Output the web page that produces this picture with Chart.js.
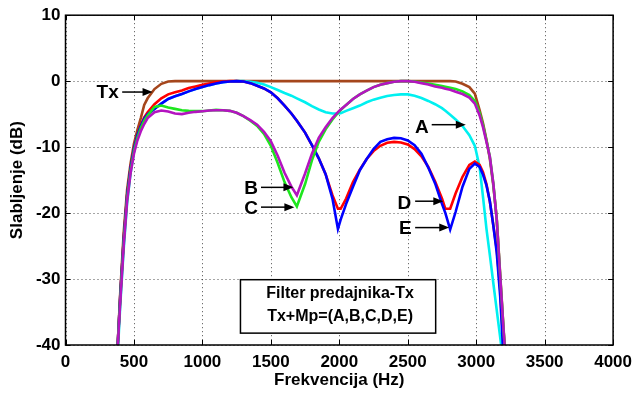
<!DOCTYPE html>
<html>
<head>
<meta charset="utf-8">
<script src="https://cdn.jsdelivr.net/npm/chart.js@4.4.1/dist/chart.umd.min.js"></script>
<style>
html,body{margin:0;padding:0;background:#fff;}
#wrap{width:639px;height:393px;}
</style>
</head>
<body>
<div id="wrap"><canvas id="c" width="639" height="393"></canvas></div>
<script>
// ---- data ----
const freq = [380,400,425,450,475,500,525,550,575,600,
  650,700,750,800,850,900,950,1000,1050,1100,
  1150,1200,1250,1300,1350,1400,1450,1500,1550,1600,
  1650,1690,1750,1800,1850,1900,1950,1990,2010,2050,
  2100,2150,2200,2250,2300,2350,2400,2450,2500,2550,
  2600,2650,2700,2750,2775,2810,2850,2900,2950,2990,
  3025,3050,3075,3100,3125,3150,3175,3200,3225];

const txVals = [-40.5,-32,-23,-16.5,-12.5,-9.5,-7.4,-5.6,-3.6,-2.6,
  -1.2,-0.4,-0.05,0,0,0,0,0,0,0,
  0,0,0,0,0,0,0,0,0,0,
  0,0,0,0,0,0,0,0,0,0,
  0,0,0,0,0,0,0,0,0,0,
  0,0,0,0,0,0,-0.05,-0.4,-0.9,-1.9,
  -4.4,-6.4,-8.9,-11.8,-15.8,-20.8,-29.2,-37.6,-45];

const aVals = [-42,-34,-25.5,-18.5,-14,-10.8,-8.6,-7.0,-5.8,-5.0,
  -4.2,-3.4,-2.7,-2.3,-1.95,-1.55,-1.2,-0.9,-0.6,-0.35,
  -0.15,-0.05,0,0,-0.1,-0.25,-0.5,-0.9,-1.35,-1.8,
  -2.2,-2.6,-3.2,-3.8,-4.3,-4.7,-4.9,-4.9,-4.85,-4.5,
  -4.1,-3.7,-3.2,-2.8,-2.5,-2.25,-2.1,-2.0,-2.0,-2.2,
  -2.55,-3.0,-3.5,-4.1,-4.5,-5.1,-5.8,-6.8,-8.2,-9.8,
  -13.0,-17.6,-22.4,-26.4,-30.6,-34.7,-38.8,-43,-47];

const bVals = [-40.8,-33.5,-25,-18.2,-14,-11,-9.0,-7.6,-6.5,-5.6,
  -4.7,-4.45,-4.6,-4.9,-5.0,-4.8,-4.65,-4.55,-4.45,-4.4,
  -4.4,-4.5,-4.8,-5.3,-5.9,-6.6,-7.7,-9.1,-11.3,-13.9,
  -16.0,-17.3,-14.0,-11.0,-8.6,-7.0,-5.6,-4.7,-4.3,-3.6,
  -2.7,-2.0,-1.45,-0.9,-0.55,-0.3,-0.1,0,0,-0.1,
  -0.3,-0.5,-0.8,-1.0,-1.15,-1.3,-1.6,-1.95,-2.5,-3.4,
  -5.2,-7.0,-9.2,-11.5,-15.5,-21,-29.5,-37.8,-45];

const cVals = [-40.6,-33,-24.5,-17.8,-13.6,-10.6,-8.6,-7.1,-6.0,-5.2,
  -3.9,-3.7,-4.0,-4.2,-4.4,-4.5,-4.55,-4.55,-4.45,-4.35,
  -4.4,-4.5,-4.8,-5.3,-6.0,-6.8,-8.0,-9.8,-12.4,-15.3,
  -17.6,-19.0,-15.6,-12.0,-9.2,-7.3,-5.8,-4.8,-4.4,-3.6,
  -2.7,-2.0,-1.45,-0.9,-0.55,-0.3,-0.1,0,0,-0.05,
  -0.2,-0.35,-0.55,-0.75,-0.85,-1.0,-1.2,-1.55,-2.1,-3.0,
  -4.8,-6.7,-9.0,-11.5,-15.5,-21,-29.5,-37.8,-45];

const dVals = [-40.5,-32.5,-24,-17.3,-13.2,-10.2,-8.2,-6.7,-5.5,-4.7,
  -3.5,-2.6,-2.0,-1.7,-1.4,-1.05,-0.8,-0.55,-0.35,-0.15,
  -0.05,0,0,-0.05,-0.3,-0.7,-1.1,-1.7,-2.6,-3.7,
  -4.9,-6.0,-7.8,-9.7,-11.7,-14.1,-17.3,-19.35,-19.35,-17.8,
  -15.3,-13.4,-11.8,-10.6,-9.8,-9.35,-9.2,-9.3,-9.6,-10.3,
  -11.4,-13.0,-15.2,-17.8,-19.35,-19.35,-17.0,-14.5,-12.7,-12.2,
  -12.7,-13.8,-15.6,-18.3,-21.8,-25.5,-31.5,-40.5,-49];

const eVals = [-40.5,-32.5,-24,-17.3,-13.2,-10.2,-8.2,-6.8,-5.7,-5.0,
  -4.2,-3.4,-2.7,-2.3,-1.95,-1.55,-1.2,-0.9,-0.6,-0.35,
  -0.15,-0.05,0,-0.05,-0.3,-0.7,-1.1,-1.7,-2.6,-3.7,
  -4.9,-6.0,-7.8,-9.7,-11.7,-14.1,-17.8,-22.4,-21.0,-18.6,
  -16.0,-13.5,-11.8,-10.3,-9.2,-8.8,-8.6,-8.65,-9.0,-9.7,
  -11.0,-13.1,-15.5,-18.6,-20.0,-22.5,-19.8,-16.0,-13.3,-12.5,
  -13.0,-14.2,-15.8,-18.2,-21.9,-26.0,-32.5,-42,-50];

const xTicks = [0,500,1000,1500,2000,2500,3000,3500,4000];
const yTicks = [10,0,-10,-20,-30,-40];

const xTitle = 'Frekvencija (Hz)';
const yTitle = 'Slabljenje (dB)';
const boxLines = ['Filter predajnika-Tx', 'Tx+Mp=(A,B,C,D,E)'];

// annotation labels (text + arrow), in data units
const notes = [
  {t:'Tx', x:308,  y:-1.65, ax0:414,  ax1:636,  ay:-1.65},
  {t:'A',  x:2603, y:-6.9,  ax0:2675, ax1:2924, ay:-6.6},
  {t:'B',  x:1355, y:-16.2, ax0:1428, ax1:1665, ay:-16.1},
  {t:'C',  x:1355, y:-19.2, ax0:1428, ax1:1672, ay:-19.1},
  {t:'D',  x:2475, y:-18.45,ax0:2554, ax1:2760, ay:-18.2},
  {t:'E',  x:2482, y:-22.2, ax0:2554, ax1:2803, ay:-22.2}
];
const boxArea = {x0:1278, x1:2704, y0:-30.1, y1:-38.2};

// ---- chart ----
const FONT = "'Liberation Sans',Arial,sans-serif";
function pts(v){ return freq.map((f,i)=>({x:f,y:v[i]})); }

const series = [
  {label:'Tx', vals:txVals, color:'#a5461c', order:5},
  {label:'A',  vals:aVals,  color:'#00f0f0', order:4},
  {label:'D',  vals:dVals,  color:'#ff0000', order:3},
  {label:'E',  vals:eVals,  color:'#0000ff', order:2},
  {label:'C',  vals:cVals,  color:'#1ee61e', order:1},
  {label:'B',  vals:bVals,  color:'#b414c0', order:0}
];

const decor = {
  id:'decor',
  beforeDatasetsDraw(chart){
    const {ctx, chartArea:a, scales:{x,y}} = chart;
    ctx.save();
    ctx.strokeStyle = 'rgba(0,0,0,0.7)';
    ctx.lineWidth = 1;
    ctx.setLineDash([1,3]);
    xTicks.forEach(v=>{
      const px = Math.round(x.getPixelForValue(v))+0.5;
      ctx.beginPath(); ctx.moveTo(px,a.top); ctx.lineTo(px,a.bottom); ctx.stroke();
    });
    yTicks.forEach(v=>{
      const py = Math.round(y.getPixelForValue(v))+0.5;
      ctx.beginPath(); ctx.moveTo(a.left,py); ctx.lineTo(a.right,py); ctx.stroke();
    });
    ctx.restore();
  },
  afterDatasetsDraw(chart){
    const {ctx, chartArea:a, scales:{x,y}} = chart;
    ctx.save();
    // frame
    ctx.strokeStyle = '#000';
    ctx.lineWidth = 1.5;
    ctx.strokeRect(a.left, a.top, a.right-a.left, a.bottom-a.top);
    // inward ticks
    ctx.lineWidth = 1;
    const tl = 5;
    xTicks.forEach(v=>{
      const px = Math.round(x.getPixelForValue(v))+0.5;
      ctx.beginPath(); ctx.moveTo(px,a.bottom); ctx.lineTo(px,a.bottom-tl);
      ctx.moveTo(px,a.top); ctx.lineTo(px,a.top+tl); ctx.stroke();
    });
    yTicks.forEach(v=>{
      const py = Math.round(y.getPixelForValue(v))+0.5;
      ctx.beginPath(); ctx.moveTo(a.left,py); ctx.lineTo(a.left+tl,py);
      ctx.moveTo(a.right,py); ctx.lineTo(a.right-tl,py); ctx.stroke();
    });
    // annotations
    ctx.fillStyle = '#000';
    ctx.font = 'bold 19px ' + FONT;
    ctx.textAlign = 'center';
    ctx.textBaseline = 'middle';
    notes.forEach(n=>{
      ctx.fillText(n.t, x.getPixelForValue(n.x), y.getPixelForValue(n.y)+1);
      const x0 = x.getPixelForValue(n.ax0), x1 = x.getPixelForValue(n.ax1);
      const py = y.getPixelForValue(n.ay);
      ctx.lineWidth = 1.5;
      ctx.beginPath(); ctx.moveTo(x0,py); ctx.lineTo(x1-6,py); ctx.stroke();
      ctx.beginPath(); ctx.moveTo(x1,py); ctx.lineTo(x1-10,py-4); ctx.lineTo(x1-10,py+4); ctx.closePath(); ctx.fill();
    });
    // legend box
    const bx0 = x.getPixelForValue(boxArea.x0), bx1 = x.getPixelForValue(boxArea.x1);
    const by0 = y.getPixelForValue(boxArea.y0), by1 = y.getPixelForValue(boxArea.y1);
    ctx.fillStyle = '#fff';
    ctx.fillRect(bx0,by0,bx1-bx0,by1-by0);
    ctx.strokeStyle = '#000';
    ctx.lineWidth = 1.5;
    ctx.strokeRect(bx0,by0,bx1-bx0,by1-by0);
    ctx.fillStyle = '#000';
    ctx.font = 'bold 16px ' + FONT;
    const cx = (bx0+bx1)/2 + 2;
    ctx.fillText(boxLines[0], cx, by0 + 14);
    ctx.fillText(boxLines[1], cx, by0 + 37);
    // axis titles
    ctx.font = 'bold 17px ' + FONT;
    ctx.fillText(xTitle, (a.left+a.right)/2, 380);
    ctx.save();
    ctx.translate(17, (a.top+a.bottom)/2);
    ctx.rotate(-Math.PI/2);
    ctx.fillText(yTitle, 0, 0);
    ctx.restore();
    ctx.restore();
  }
};

new Chart(document.getElementById('c'), {
  type:'line',
  data:{
    datasets: series.map(s=>({
      label:s.label, data:pts(s.vals), borderColor:s.color, backgroundColor:s.color,
      borderWidth:2.6, pointRadius:0, tension:0, fill:false, order:s.order, clip:0
    }))
  },
  options:{
    responsive:false, animation:false, devicePixelRatio:1,
    layout:{padding:{left:0,right:21,top:12,bottom:0}},
    plugins:{legend:{display:false}, tooltip:{enabled:false}},
    scales:{
      x:{type:'linear', min:0, max:4000,
        afterFit(s){ s.height = 48; },
        afterBuildTicks(s){ s.ticks = xTicks.map(v=>({value:v})); },
        grid:{display:false, drawTicks:false}, border:{display:false},
        ticks:{color:'#000', padding:7, maxRotation:0, autoSkip:false,
          callback:(v)=>String(v),
          font:{family:FONT, size:17, weight:'bold'}}
      },
      y:{type:'linear', min:-40, max:10,
        afterFit(s){ s.width = 65.5; },
        afterBuildTicks(s){ s.ticks = yTicks.map(v=>({value:v})); },
        grid:{display:false, drawTicks:false}, border:{display:false},
        ticks:{color:'#000', padding:5, autoSkip:false,
          callback:(v)=>String(v),
          font:{family:FONT, size:17, weight:'bold'}}
      }
    }
  },
  plugins:[decor]
});
</script>
</body>
</html>
